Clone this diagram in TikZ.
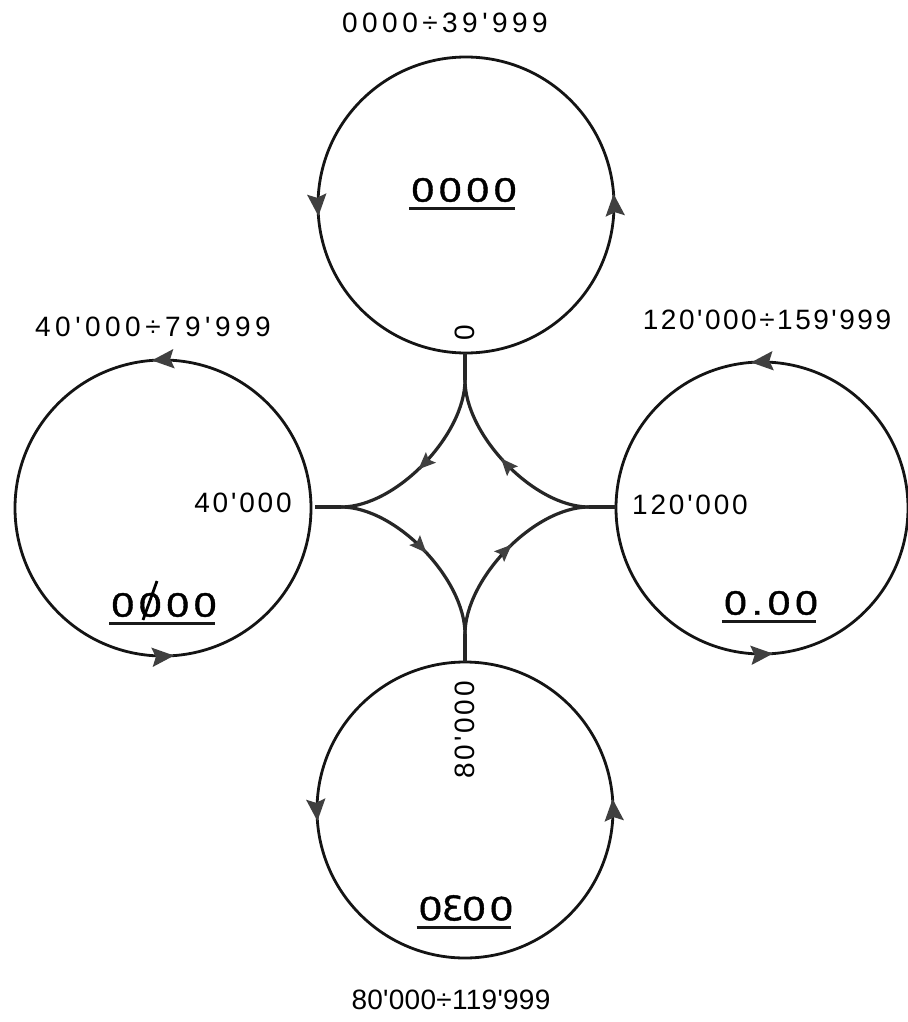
\documentclass[tikz,border=0pt]{standalone}
\usepackage{fontspec}
\setmainfont{Liberation Sans}
\newfontfamily\rangefont[LetterSpace=16]{Liberation Sans}
\newfontfamily\rangefontb[LetterSpace=9]{Liberation Sans}
\newfontfamily\rangefontc[LetterSpace=1]{Liberation Sans}
\newfontfamily\juncfont[LetterSpace=10]{Liberation Sans}
\newfontfamily\dispfont[LetterSpace=14,FakeStretch=1.2,FakeBold=1.2]{Liberation Sans}
\newfontfamily\dvfont[LetterSpace=14,FakeBold=1.2]{DejaVu Sans}
\usetikzlibrary{arrows.meta,decorations.markings,calc}
\tikzset{
  ring/.style={line width=1.4pt, draw=black!92},
  cusp/.style={line width=1.6pt, draw=black!85},
  stem/.style={line width=2.4pt, draw=black!85},
  ringarrows/.style 2 args={postaction={decorate}, decoration={markings,
      mark=at position #1 with {\arrow{Stealth[length=11pt,width=9.5pt,inset=1.8pt,color=black!75]}},
      mark=at position #2 with {\arrow{Stealth[length=11pt,width=9.5pt,inset=1.8pt,color=black!75]}}}},
  midarrow/.style={postaction={decorate}, decoration={markings,
      mark=at position #1 with {\arrow{Stealth[length=8.5pt,width=7pt,inset=1.4pt,color=black!75]}}}},
  rng/.style={inner sep=0pt, font=\fontsize{14}{16}\selectfont\rangefont},
  junc/.style={inner sep=0pt, font=\fontsize{14}{16}\selectfont\juncfont},
  disp/.style={inner sep=0pt, font=\fontsize{17}{19}\selectfont\dispfont},
  uline/.style={line width=1.7pt, draw=black!90},
}
\begin{document}
\begin{tikzpicture}[x=0.5pt,y=0.5pt]
\useasboundingbox (0,0) rectangle (908,-1022);
% circle centres
\coordinate (cT) at (466,-205);
\coordinate (cL) at (163,-508);
\coordinate (cR) at (762,-508);
\coordinate (cB) at (465,-810);
% junctions on the circles
\coordinate (jT) at (465,-353);
\coordinate (jL) at (315,-507);
\coordinate (jR) at (616,-507);
\coordinate (jB) at (465,-662);
% star tips
\coordinate (T) at (465,-380);
\coordinate (L) at (341,-507);
\coordinate (R) at (589,-507);
\coordinate (B) at (465,-634);

% circles, drawn counterclockwise from -45 degrees
\draw[ring, ringarrows={0.137}{0.637}] ($(cT)+(-45:148)$) arc[start angle=-45, end angle=315, radius=148];
\draw[ring, ringarrows={0.387}{0.887}] ($(cL)+(-45:148)$) arc[start angle=-45, end angle=315, radius=148];
\draw[ring, ringarrows={0.387}{0.887}] ($(cR)+(-45:146)$) arc[start angle=-45, end angle=315, radius=146];
\draw[ring, ringarrows={0.137}{0.637}] ($(cB)+(-45:148)$) arc[start angle=-45, end angle=315, radius=148];

% stems
\draw[stem] (jT) -- (T);
\draw[stem] (jL) -- (L);
\draw[stem] (jR) -- (R);
\draw[stem] (jB) -- (B);

% cusped star
\draw[cusp, midarrow=0.54] (T) .. controls +(0,-55) and +(55,0) .. (L);
\draw[cusp, midarrow=0.52] (L) .. controls +(55,0) and +(0,55) .. (B);
\draw[cusp, midarrow=0.54] (B) .. controls +(0,55) and +(-55,0) .. (R);
\draw[cusp, midarrow=0.54] (R) .. controls +(-55,0) and +(0,-55) .. (T);

% range labels
\node[rng] (r0) at (445,-23) {0000÷39'999};
\node[rng] (r40) at (153,-327) {40'000÷79'999};
\node[rng, font=\fontsize{14}{16}\selectfont\rangefontb] (r120) at (767,-320) {120'000÷159'999};
\node[rng, font=\fontsize{14}{16}\selectfont\rangefontc] (r80) at (451,-1000) {80'000÷119'999};

% junction labels
\node[junc, rotate=90] (j0) at (465,-333) {0};
\node[junc] (j40) at (243,-503) {40'000};
\node[junc] (j120) at (690,-505) {120'000};
\node[junc, rotate=90] (j80) at (465,-730) {80'000};

% display labels
\node[disp] (d0) at (464,-190) {0000};
\node[disp] (d1) at (164,-605) {0000};
\node[disp] (d2) at (771,-603) {0.00};
\node[disp] (d3) at (466,-908) {0{\dvfont Ɛ}00};
\draw[uline] ($(d0.south west)+(-2,-6)$) -- ($(d0.south east)+(-2,-6)$);
\draw[uline] ($(d1.south west)+(-2,-6)$) -- ($(d1.south east)+(-2,-6)$);
\draw[uline] ($(d2.south west)+(-2,-6)$) -- ($(d2.south east)+(-2,-6)$);
\draw[uline] ($(d3.south west)+(-2,-6)$) -- ($(d3.south east)+(-2,-6)$);
% slash through the second digit of the left display
\draw[line width=1.4pt] (157,-581) -- (143,-620);
\end{tikzpicture}
\end{document}
